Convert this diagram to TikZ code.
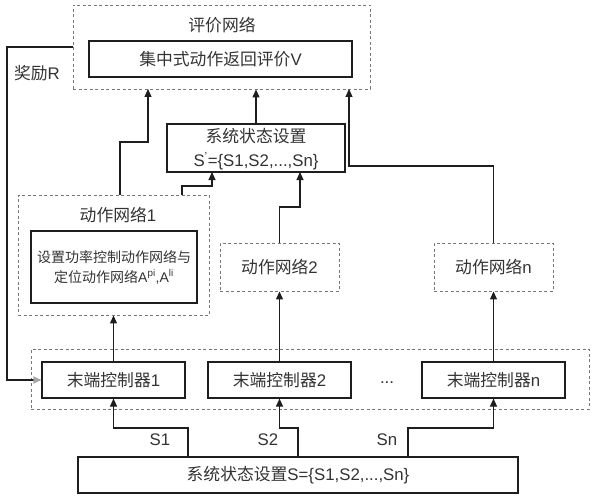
\documentclass[tikz,border=0pt]{standalone}
\usepackage{fontspec}
\setmainfont{Liberation Sans}
\newfontfamily\cjk{Noto Sans CJK SC}
\usetikzlibrary{arrows.meta,calc}
\definecolor{txt}{HTML}{333333}
\definecolor{ln}{HTML}{1E1E1E}
\definecolor{dash}{HTML}{777777}
\begin{document}
\begin{tikzpicture}[x=1pt,y=-1pt,
  every node/.style={text=txt,inner sep=0pt,font=\fontsize{16.8}{20}\selectfont},
  solidbox/.style={draw=ln,line width=1.1pt,rectangle},
  dashbox/.style={draw=dash,line width=0.9pt,dash pattern=on 3pt off 2.5pt,rectangle},
  arr/.style={draw=ln,line width=1.1pt,-{Triangle[length=8pt,width=7pt]}},
  garr/.style={draw=ln,line width=1.1pt,-{Triangle[length=8pt,width=7pt,color=gray!70]}}]
\useasboundingbox (0,0) rectangle (596,500);
% evaluation network
\node[dashbox,minimum width=297pt,minimum height=84pt] (eval) at (221.5,47) {};
\node (evalt) at (222,25) {\cjk 评价网络};
\node[solidbox,minimum width=263pt,minimum height=36pt] (evalv) at (220.5,59) {{\cjk 集中式动作返回评价}V};
\node (rew) at (37,73) {{\cjk 奖励}R};
% system state S'
\node[solidbox,minimum width=178pt,minimum height=48pt] (sp) at (256,148) {};
\node (spt1) at (256,136) {\cjk 系统状态设置};
\node (spt2) at (256,161) {S\textsuperscript{'}=\{S1,S2,...,Sn\}};
% action networks
\node[dashbox,minimum width=191pt,minimum height=120pt] (net1) at (113.5,255) {};
\node (net1t) at (118,215) {{\cjk 动作网络}1};
\node[solidbox,minimum width=166pt,minimum height=72pt,align=center,font=\fontsize{14}{20}\selectfont] (net1in) at (114,267)
  {{\cjk 设置功率控制动作网络与}\\{\cjk 定位动作网络}A\textsuperscript{pi},A\textsuperscript{li}};
\node[dashbox,minimum width=119pt,minimum height=48pt] (net2) at (279.5,267) {{\cjk 动作网络}2};
\node[dashbox,minimum width=119pt,minimum height=48pt] (netn) at (493.5,267) {{\cjk 动作网络}n};
% controllers
\node[dashbox,minimum width=558pt,minimum height=60pt] (ctrl) at (310,379) {};
\node[solidbox,minimum width=143pt,minimum height=36pt] (c1) at (113.5,380) {{\cjk 末端控制器}1};
\node[solidbox,minimum width=143pt,minimum height=36pt] (c2) at (279.5,380) {{\cjk 末端控制器}2};
\node[solidbox,minimum width=143pt,minimum height=36pt] (cn) at (493.5,380) {{\cjk 末端控制器}n};
\node (dots) at (387,383) {...};
% bottom state
\node[solidbox,minimum width=440pt,minimum height=36pt] (st) at (298,475) {{\cjk 系统状态设置}S=\{S1,S2,...,Sn\}};
\node (l1) at (160,440) {S1};
\node (l2) at (268,440) {S2};
\node (ln) at (387,440) {Sn};
% coordinates
\coordinate (n1a) at (120,195);
\coordinate (n1b) at (182,195);
\coordinate (e1) at (148,89);
\coordinate (en) at (349,89);
\coordinate (s1) at (212,172);
\coordinate (s2) at (300,172);
\coordinate (b1) at (188,457);
\coordinate (b2) at (298,457);
\coordinate (bn) at (408,457);
\coordinate (fb) at (7,47);
% connectors to evaluation
\draw[arr] (n1a) -- (120,142) -| (e1);
\draw[arr] (sp.north) -- (sp.north |- eval.south);
\draw[arr] (netn.north) -- (493.5,166) -| (en);
% connectors to S'
\draw[arr] (n1b) -- (182,186) -| (s1);
\draw[arr] (net2.north) -- (279.5,207) -| (s2);
% controllers to action networks
\draw[arr] (c1.north) -- (c1.north |- net1.south);
\draw[arr] (c2.north) -- (c2.north |- net2.south);
\draw[arr] (cn.north) -- (cn.north |- netn.south);
% state to controllers
\draw[arr] (b1) -- (188,428) -| (c1.south);
\draw[arr] (b2) -- (298,428) -| (c2.south);
\draw[arr] (bn) -- (408,428) -| (cn.south);
% reward feedback
\draw[garr] (eval.west |- fb) -- (fb) |- (c1.west);
\end{tikzpicture}
\end{document}
